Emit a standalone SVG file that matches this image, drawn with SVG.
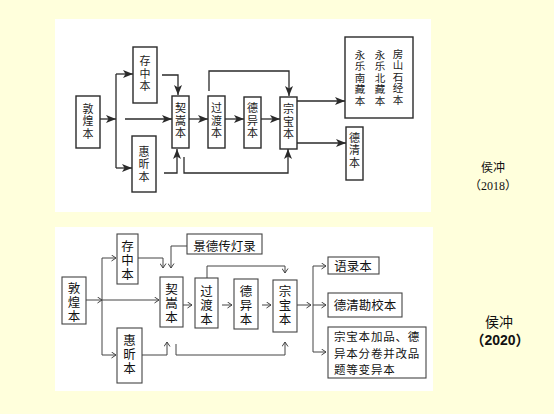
<svg xmlns="http://www.w3.org/2000/svg" width="554" height="414" viewBox="0 0 554 414">
<defs>
<marker id="ah1" markerUnits="userSpaceOnUse" markerWidth="10" markerHeight="8" refX="10" refY="4" orient="auto"><path d="M0,0 L10,4 L0,8 L2.5,4 z" fill="#2a2a2a"/></marker>
<marker id="ah2" markerUnits="userSpaceOnUse" markerWidth="7" markerHeight="7" refX="5.5" refY="3.5" orient="auto"><path d="M1,0.5 L5.5,3.5 L1,6.5" fill="none" stroke="#444" stroke-width="1"/></marker>
</defs>
<style>
.bg{fill:#FFFFDC}
.panel{fill:#FFFFFF}
.b1{fill:#FFFFFF;stroke:#2a2a2a;stroke-width:1.4}
.b2{fill:#FFFFFF;stroke:#444;stroke-width:1.1}
.c1{fill:none;stroke:#2a2a2a;stroke-width:1.3}
.c1a{fill:none;stroke:#2a2a2a;stroke-width:1.3;marker-end:url(#ah1)}
.c2{fill:none;stroke:#444;stroke-width:1}
.c2a{fill:none;stroke:#444;stroke-width:1;marker-end:url(#ah2)}
.v1{font-family:"Noto Sans CJK SC",sans-serif;font-size:11px;fill:#222;text-anchor:middle;writing-mode:vertical-rl;letter-spacing:1.5px}
.v1s{font-family:"Noto Sans CJK SC",sans-serif;font-size:10.5px;fill:#222;text-anchor:middle;writing-mode:vertical-rl;letter-spacing:1px}
.v2{font-family:"Noto Sans CJK SC",sans-serif;font-size:12.5px;fill:#111;text-anchor:middle;writing-mode:vertical-rl;letter-spacing:1.5px}
.t2{font-family:"Noto Sans CJK SC",sans-serif;font-size:12.5px;fill:#111;text-anchor:middle;dominant-baseline:central}
.t2l{font-family:"Noto Sans CJK SC",sans-serif;font-size:11.5px;letter-spacing:0.8px;fill:#111;dominant-baseline:central}
.cap{font-family:"Liberation Serif","Noto Sans CJK SC",serif;font-size:12px;fill:#111;text-anchor:middle;dominant-baseline:central}
.capb{font-family:"Liberation Sans","Noto Sans CJK SC",sans-serif;font-size:14px;font-weight:bold;fill:#111;text-anchor:middle;dominant-baseline:central}
</style>
<rect class="bg" x="0" y="0" width="554" height="414"/>
<rect class="panel" x="55" y="19" width="376" height="193"/>
<rect class="panel" x="55" y="227" width="378" height="164"/>

<!-- top panel connectors -->
<g id="connectors-top">
<path class="c1a" d="M100,119 L116,119"/>
<path class="c1" d="M116,74 L116,168"/>
<path class="c1a" d="M116,74 L133,74"/>
<path class="c1a" d="M116,168 L132,168"/>
<path class="c1a" d="M125,119 L172,119"/>
<path class="c1a" d="M162,75 L178,75 L178,95"/>
<path class="c1a" d="M164,173 L177,173 L177,149"/>
<path class="c1a" d="M184,157 L184,173 L288,173 L288,149"/>
<path class="c1a" d="M209,91 L209,71 L289,71 L289,96"/>
<path class="c1a" d="M189,119 L208,119"/>
<path class="c1a" d="M225,119 L244,119"/>
<path class="c1a" d="M261,119 L280,119"/>
<path class="c1a" d="M297,101 L345,101"/>
<path class="c1a" d="M297,143 L346,143"/>
</g>

<!-- top panel nodes -->
<g id="t-dunhuang"><rect class="b1" x="76" y="96" width="24" height="52"/><text class="v1" x="88" y="122">敦煌本</text></g>
<g id="t-cunzhong"><rect class="b1" x="133" y="47" width="24" height="56"/><text class="v1" x="145" y="74.5">存中本</text></g>
<g id="t-huixin"><rect class="b1" x="132" y="136" width="24" height="56"/><text class="v1" x="144" y="165">惠昕本</text></g>
<g id="t-qisong"><rect class="b1" x="172" y="96" width="17" height="52"/><text class="v1" x="180.5" y="121.5">契嵩本</text></g>
<g id="t-guodu"><rect class="b1" x="208" y="96" width="17" height="52"/><text class="v1" x="216.5" y="121.5">过渡本</text></g>
<g id="t-deyi"><rect class="b1" x="244" y="97" width="17" height="51"/><text class="v1" x="252.5" y="121.5">德异本</text></g>
<g id="t-zongbao"><rect class="b1" x="280" y="97" width="17" height="52"/><text class="v1" x="288.5" y="122.5">宗宝本</text></g>
<g id="t-fangshan"><rect class="b1" x="345" y="37" width="68" height="81"/>
<text class="v1s" x="398" y="77.5">房山石经本</text>
<text class="v1s" x="380" y="78.5">永乐北藏本</text>
<text class="v1s" x="360" y="78.5">永乐南藏本</text></g>
<g id="t-deqing"><rect class="b1" x="346" y="127" width="17" height="53"/><text class="v1" x="354.5" y="151">德清本</text></g>

<g id="cap-2018"><text class="cap" x="493" y="168">侯冲</text><text class="cap" x="493" y="186">（2018）</text></g>

<!-- bottom panel connectors -->
<g id="connectors-bottom">
<path class="c2a" d="M86,300 L102,300"/>
<path class="c2a" d="M102,300 L159,300"/>
<path class="c2" d="M102,258 L102,355"/>
<path class="c2a" d="M102,258 L116,258"/>
<path class="c2a" d="M102,355 L116,355"/>
<path class="c2a" d="M138,258 L163,258 L163,268"/>
<path class="c2a" d="M187,246 L171,246 L171,268"/>
<path class="c2a" d="M142,355 L167,355 L167,342"/>
<path class="c2a" d="M176,344 L176,355 L285,355 L285,342"/>
<path class="c2a" d="M207,278 L207,266 L285,266 L285,273"/>
<path class="c2a" d="M183,305 L192,305"/>
<path class="c2a" d="M222,305 L232,305"/>
<path class="c2a" d="M262,305 L271,305"/>
<path class="c2a" d="M297,305 L311,305"/>
<path class="c2" d="M313,266 L313,352"/>
<path class="c2a" d="M313,266 L326,266"/>
<path class="c2a" d="M313,305 L326,305"/>
<path class="c2a" d="M313,352 L326,352"/>
</g>

<!-- bottom panel nodes -->
<g id="b-dunhuang"><rect class="b2" x="62" y="277" width="24" height="47"/><text class="v2" x="74" y="303">敦煌本</text></g>
<g id="b-cunzhong"><rect class="b2" x="117" y="234" width="21" height="50"/><text class="v2" x="127.5" y="261">存中本</text></g>
<g id="b-huixin"><rect class="b2" x="117" y="328" width="25" height="55"/><text class="v2" x="129.5" y="354.5">惠昕本</text></g>
<g id="b-jingde"><rect class="b2" x="187" y="234" width="75" height="20"/><text class="t2" x="224.5" y="245">景德传灯录</text></g>
<g id="b-qisong"><rect class="b2" x="160" y="277" width="23" height="50"/><text class="v2" x="171.5" y="304">契嵩本</text></g>
<g id="b-guodu"><rect class="b2" x="195" y="278" width="23" height="50"/><text class="v2" x="206.5" y="305.5">过渡本</text></g>
<g id="b-deyi"><rect class="b2" x="234" y="279" width="24" height="50"/><text class="v2" x="246" y="305.5">德异本</text></g>
<g id="b-zongbao"><rect class="b2" x="273" y="280" width="24" height="52"/><text class="v2" x="285" y="306">宗宝本</text></g>
<g id="b-yulu"><rect class="b2" x="328" y="257" width="51" height="17"/><text class="t2" x="353" y="265.5">语录本</text></g>
<g id="b-deqing"><rect class="b2" x="328" y="293" width="74" height="24"/><text class="t2" x="365" y="304">德清勘校本</text></g>
<g id="b-bianyi"><rect class="b2" x="328" y="327" width="98" height="51"/><text class="t2l" x="334" y="336">宗宝本加品、德</text><text class="t2l" x="334" y="352.5">异本分卷并改品</text><text class="t2l" x="334" y="369">题等变异本</text></g>

<g id="cap-2020"><text class="cap" x="499" y="322" style="font-size:14px">侯冲</text><text class="capb" x="500" y="340">（2020）</text></g>
</svg>
